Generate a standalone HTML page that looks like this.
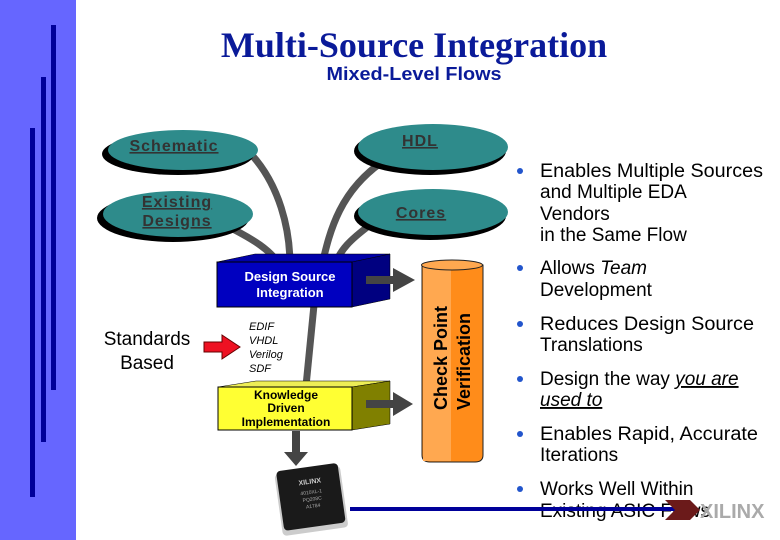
<!DOCTYPE html>
<html><head><meta charset="utf-8"><style>
html,body{margin:0;padding:0;background:#fff;}
svg{display:block;}
text{font-family:"Liberation Sans",Arial,sans-serif;}
</style></head><body>
<svg width="780" height="540" viewBox="0 0 780 540" xmlns="http://www.w3.org/2000/svg">
<rect x="0" y="0" width="76" height="540" fill="#6666ff"/>
<rect x="51" y="25" width="5" height="365" fill="#000099"/>
<rect x="41" y="77" width="5" height="365" fill="#000099"/>
<rect x="30" y="128" width="5" height="369" fill="#000099"/>

<text x="414" y="57" text-anchor="middle" font-size="36" font-weight="bold" fill="#0a1a99" style="font-family:'Liberation Serif',serif">Multi-Source Integration</text>
<text x="414" y="80" text-anchor="middle" font-size="18" font-weight="bold" fill="#0a1a99" textLength="175" lengthAdjust="spacingAndGlyphs">Mixed-Level Flows</text>

<!-- stems -->
<g fill="none" stroke="#555" stroke-width="7">
<path d="M250,153 C280,185 290,230 290,265"/>
<path d="M225,225 C255,240 270,250 280,265"/>
<path d="M385,160 C340,190 330,230 322,265"/>
<path d="M370,225 C350,240 340,250 335,265"/>
<path d="M314,305 L306,386"/>
</g>

<!-- ellipses -->
<g font-size="16" font-weight="bold" fill="#333" text-decoration="underline" text-anchor="middle" letter-spacing="1">
<ellipse cx="178" cy="154" rx="76" ry="21" fill="#000"/>
<ellipse cx="183" cy="150" rx="75" ry="20" fill="#2e8b8b"/>
<text x="174" y="151">Schematic</text>
<ellipse cx="173" cy="218" rx="76" ry="24" fill="#000"/>
<ellipse cx="178" cy="214" rx="75" ry="23" fill="#2e8b8b"/>
<text x="177" y="207">Existing</text>
<text x="177" y="226">Designs</text>
<ellipse cx="430" cy="151" rx="76" ry="24" fill="#000"/>
<ellipse cx="433" cy="147" rx="75" ry="23" fill="#2e8b8b"/>
<text x="420" y="146">HDL</text>
<ellipse cx="430" cy="216" rx="76" ry="24" fill="#000"/>
<ellipse cx="433" cy="212" rx="75" ry="23" fill="#2e8b8b"/>
<text x="421" y="218">Cores</text>
</g>

<!-- design source box -->
<polygon points="217,262 255,254 390,254 352,262" fill="#0000aa" stroke="#000" stroke-width="0.5"/>
<polygon points="352,262 390,254 390,299 352,307" fill="#000080" stroke="#000" stroke-width="0.5"/>
<rect x="217" y="262" width="135" height="45" fill="#0000c0" stroke="#000" stroke-width="1"/>
<text x="290" y="281" text-anchor="middle" font-size="13" font-weight="bold" fill="#fff">Design Source</text>
<text x="290" y="297" text-anchor="middle" font-size="13" font-weight="bold" fill="#fff">Integration</text>
<polygon points="366,276 393,276 393,268 415,280 393,292 393,284 366,284" fill="#444"/>

<!-- knowledge box -->
<polygon points="218,387 256,381 390,381 352,387" fill="#eeee55" stroke="#000" stroke-width="0.5"/>
<polygon points="352,387 390,381 390,424 352,430" fill="#808000" stroke="#000" stroke-width="0.5"/>
<rect x="218" y="387" width="134" height="43" fill="#ffff33" stroke="#000" stroke-width="1"/>
<text x="286" y="399" text-anchor="middle" font-size="12" font-weight="bold" fill="#000">Knowledge</text>
<text x="286" y="412" text-anchor="middle" font-size="12" font-weight="bold" fill="#000">Driven</text>
<text x="286" y="426" text-anchor="middle" font-size="12" font-weight="bold" fill="#000">Implementation</text>
<polygon points="366,400 393,400 393,392 413,404 393,416 393,408 366,408" fill="#444"/>
<polygon points="292,431 300,431 300,452 308,452 296,466 284,452 292,452" fill="#444"/>

<!-- cylinder -->
<path d="M422,265 L422,455 Q422,462 430,462 L475,462 Q483,462 483,455 L483,265 Z" fill="#ff8c1a" stroke="#222" stroke-width="1"/>
<rect x="423" y="265" width="28" height="196" fill="#ffa850"/>
<ellipse cx="452" cy="265" rx="30.5" ry="5" fill="#ffa850" stroke="#222" stroke-width="1"/>
<text transform="translate(447,410) rotate(-90)" font-size="18" font-weight="bold" fill="#000">Check Point</text>
<text transform="translate(470,410) rotate(-90)" font-size="18" font-weight="bold" fill="#000">Verification</text>

<!-- standards -->
<text x="147" y="345" text-anchor="middle" font-size="19" fill="#000">Standards</text>
<text x="147" y="369" text-anchor="middle" font-size="19" fill="#000">Based</text>
<polygon points="204,342 222,342 222,335 240,347 222,359 222,352 204,352" fill="#ee1122" stroke="#660000" stroke-width="1"/>
<g font-size="11" font-style="italic" fill="#000">
<text x="249" y="330">EDIF</text>
<text x="249" y="344">VHDL</text>
<text x="249" y="358">Verilog</text>
<text x="249" y="372">SDF</text>
</g>

<!-- chip -->
<g transform="rotate(-8 310 498)">
<rect x="278" y="470" width="66" height="62" rx="4" fill="#ccc"/>
<rect x="280" y="467" width="62" height="60" rx="4" fill="#1a1a1a"/>
<text x="312" y="484" text-anchor="middle" font-size="7" fill="#ccc" font-weight="bold">XILINX</text>
<text x="312" y="494" text-anchor="middle" font-size="5" fill="#aaa">4010XL-1</text>
<text x="312" y="501" text-anchor="middle" font-size="5" fill="#aaa">PQ208C</text>
<text x="312" y="508" text-anchor="middle" font-size="5" fill="#aaa">A1784</text>
</g>

<!-- bullets -->
<g fill="#2255cc">
<circle cx="520" cy="171" r="3"/><circle cx="520" cy="268" r="3"/><circle cx="520" cy="324" r="3"/>
<circle cx="520" cy="379" r="3"/><circle cx="520" cy="434" r="3"/><circle cx="520" cy="489" r="3"/>
</g>
<g font-size="19" fill="#000">
<text x="540" y="177" textLength="223" lengthAdjust="spacingAndGlyphs">Enables Multiple Sources</text>
<text x="540" y="198">and Multiple EDA</text>
<text x="540" y="220">Vendors</text>
<text x="540" y="241">in the Same Flow</text>
<text x="540" y="274">Allows <tspan font-style="italic">Team</tspan></text>
<text x="540" y="296">Development</text>
<text x="540" y="330" textLength="214" lengthAdjust="spacingAndGlyphs">Reduces Design Source</text>
<text x="540" y="351">Translations</text>
<text x="540" y="385">Design the way <tspan font-style="italic" text-decoration="underline">you are</tspan></text>
<text x="540" y="406" font-style="italic" text-decoration="underline">used to</text>
<text x="540" y="440" textLength="218" lengthAdjust="spacingAndGlyphs">Enables Rapid, Accurate</text>
<text x="540" y="461">Iterations</text>
<text x="540" y="495">Works Well Within</text>
<text x="540" y="517">Existing ASIC Flows</text>
</g>
<rect x="350" y="507" width="340" height="4" fill="#000099"/>
<polygon points="665,500 690,500 700,510 690,520 665,520 675,510" fill="#6b1a1a"/>
<text x="700" y="518" font-size="20" font-weight="bold" fill="#aaa">XILINX</text>
</svg>
</body></html>
